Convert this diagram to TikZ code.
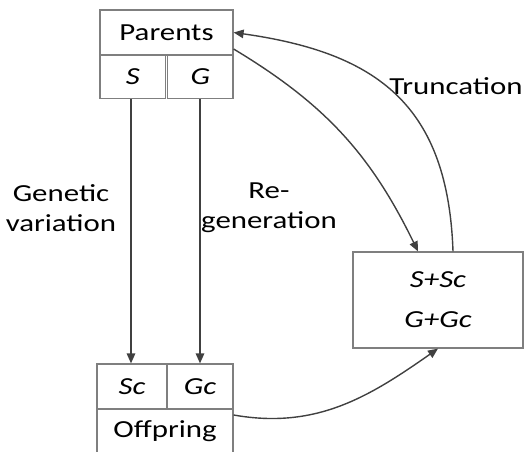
\documentclass[tikz,border=0pt]{standalone}
\usepackage{fontspec}
\setmainfont{Carlito}[FakeStretch=1.26]
\usepackage{tikz}
\usetikzlibrary{positioning,arrows.meta}
\definecolor{frame}{HTML}{7F7F7F}
\definecolor{link}{HTML}{404040}

\begin{document}
\begin{tikzpicture}[x=1pt, y=1pt,
  cell/.style={draw=frame, line width=1.2pt, inner sep=0pt, font=\fontsize{24.5}{30}\selectfont, align=center},
  lbl/.style={font=\fontsize{24.5}{30}\selectfont, align=center},
  arr/.style={draw=link, line width=1.4pt, -{Triangle[length=10pt,width=8.5pt]}}]
\useasboundingbox (0,0) rectangle (526,451);
\node[cell, minimum width=133pt, minimum height=45pt] (par) at (166.5,418.5) {Parents};
\node[cell, minimum width=65.7pt, minimum height=43.5pt] (s) at (132.9,374.2) {\itshape S};
\node[cell, minimum width=65.3pt, minimum height=43.5pt] (g) at (200.4,374.2) {\itshape G};
\node[cell, minimum width=70pt, minimum height=45pt] (sc) at (132,64.5) {\itshape Sc};
\node[cell, minimum width=66pt, minimum height=45pt] (gc) at (200,64.5) {\itshape Gc};
\node[cell, minimum width=136pt, minimum height=44pt] (off) at (165,20) {Offpring};
\node[cell, minimum width=170pt, minimum height=96pt, font=\fontsize{24.5}{40}\selectfont\itshape] (pool) at (438,151) {S+Sc\\G+Gc};
\node[lbl] (gv) at (61,243) {Genetic\\variation};
\node[lbl] (rg) at (269,243) {Re-\\generation};
\node[lbl] (tr) at (456,365) {Truncation};
\draw[arr] (s.south -| 131,0) -- (sc.north -| 131,0);
\draw[arr] (g.south -| 200,0) -- (gc.north);
\draw[arr] ([yshift=-16.5pt]par.east) to[out=-31, in=116] ([xshift=-20pt]pool.north);
\draw[arr] ([xshift=15pt]pool.north) to[out=92, in=-8, looseness=1.2] (par.east);
\draw[arr] ([yshift=16pt]off.east) to[out=-10, in=-145] (pool.south);
\end{tikzpicture}
\end{document}
